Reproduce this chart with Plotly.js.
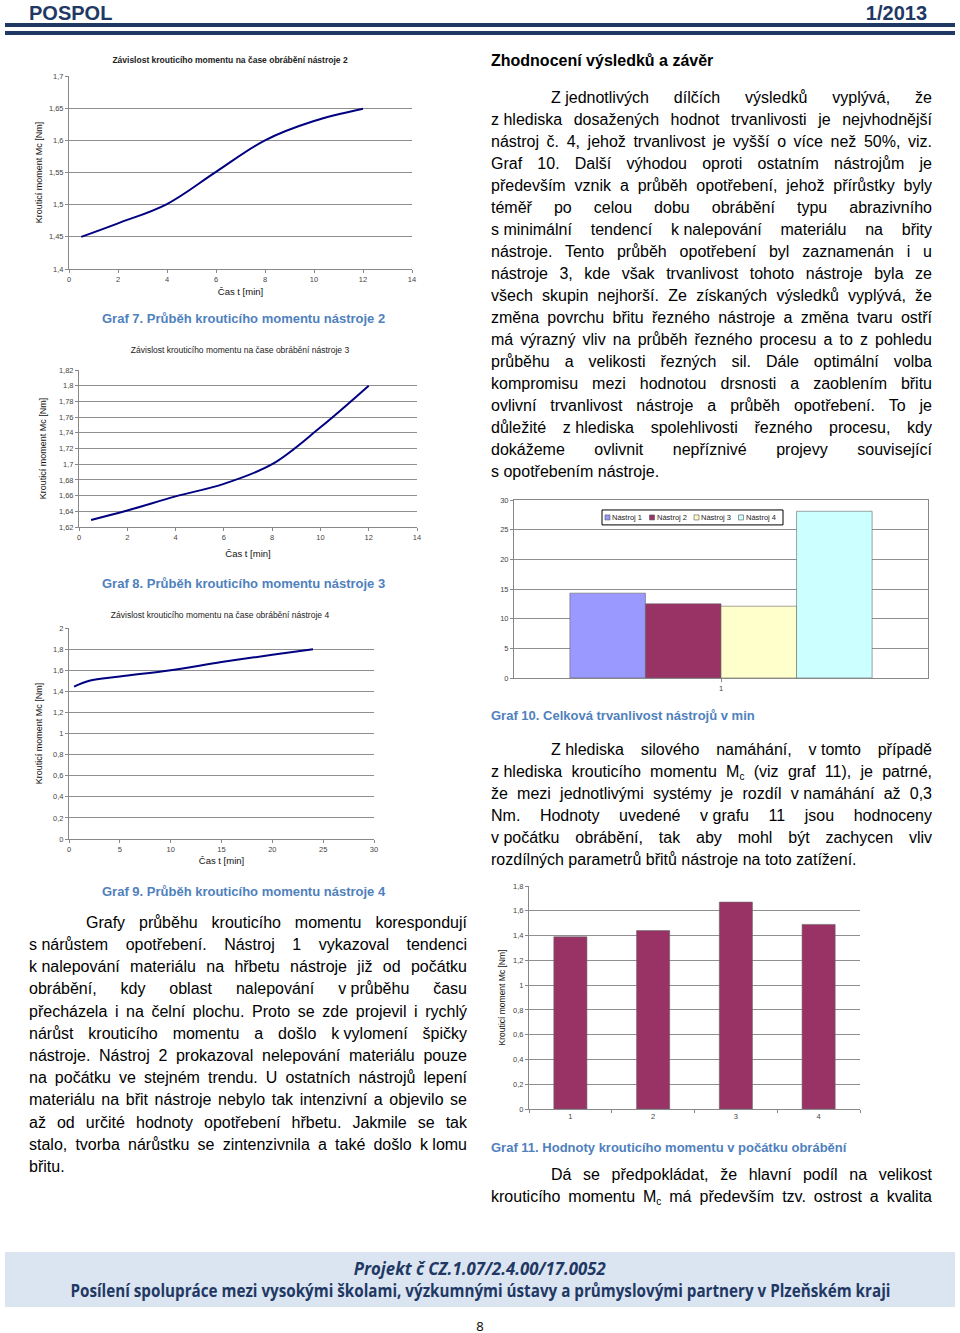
<!DOCTYPE html>
<html><head><meta charset="utf-8">
<script src="https://cdn.plot.ly/plotly-3.0.1.min.js"></script>
<style>
body{margin:0;width:960px;height:1333px;position:relative;background:#fff;font-family:"Liberation Sans",Arial,sans-serif;overflow:hidden}
.ln{position:absolute;font-size:16px;line-height:22px;height:22px;white-space:nowrap;text-align:justify;text-align-last:justify;color:#000}
.ln.last{text-align:left;text-align-last:left}
.ln sub{font-size:10px;line-height:0;vertical-align:-3px}
.nb{display:inline-block;white-space:pre}
.cap{position:absolute;font-size:13px;line-height:16px;font-weight:bold;color:#4f81bd;white-space:nowrap}
.chart{position:absolute}
.hdr{position:absolute;font-size:20px;line-height:20px;font-weight:bold;color:#1f3864}
.bar{position:absolute;left:5px;width:950px;background:#1f3864}
.foot{position:absolute;left:5px;width:950px;top:1252px;height:55px;background:#dbe5f1}
.fl{position:absolute;left:0;width:960px;text-align:center;color:#1f3864;font-family:"Open Sans","Noto Sans",sans-serif;font-weight:bold;white-space:nowrap}
.fl span{display:inline-block;transform-origin:center}
</style></head>
<body>
<div class="hdr" style="left:29px;top:3px">POSPOL</div>
<div class="hdr" style="right:33px;top:3px">1/2013</div>
<div class="bar" style="top:23px;height:4px"></div>
<div class="bar" style="top:31px;height:4px"></div>

<div id="g7" class="chart" style="left:30px;top:50px;width:395px;height:258px"></div>
<div id="g8" class="chart" style="left:30px;top:340px;width:400px;height:228px"></div>
<div id="g9" class="chart" style="left:30px;top:600px;width:360px;height:270px"></div>
<div id="g10" class="chart" style="left:490px;top:495px;width:450px;height:205px"></div>
<div id="g11" class="chart" style="left:490px;top:880px;width:450px;height:250px"></div>

<div class="cap" style="left:102px;top:311px">Graf 7. Průběh krouticího momentu nástroje 2</div>
<div class="cap" style="left:102px;top:576px">Graf 8. Průběh krouticího momentu nástroje 3</div>
<div class="cap" style="left:102px;top:884px">Graf 9. Průběh krouticího momentu nástroje 4</div>
<div class="cap" style="left:491px;top:708px">Graf 10. Celková trvanlivost nástrojů v min</div>
<div class="cap" style="left:491px;top:1140px">Graf 11. Hodnoty krouticího momentu v počátku obrábění</div>

<div class="ln last" style="left:491px;top:50px;font-weight:bold">Zhodnocení výsledků a závěr</div>

<div class="foot"></div>
<div class="fl" style="top:1258px;font-size:17px;line-height:22px"><span id="f1" style="font-style:italic">Projekt č CZ.1.07/2.4.00/17.0052</span></div>
<div class="fl" style="top:1280px;font-size:17px;line-height:22px"><span id="f2">Posílení spolupráce mezi vysokými školami, výzkumnými ústavy a průmyslovými partnery v Plzeňském kraji</span></div>
<div class="fl" style="top:1317px;font-size:13px;line-height:18px;color:#000;font-weight:normal">8</div>

<script>
// ---------- chart data ----------
const g7Time = [0.5, 2, 4, 6, 8, 10, 12];
const g7Moment = [1.45, 1.471, 1.501, 1.551, 1.600, 1.630, 1.649];

const g8Time = [0.5, 2, 4, 6, 8, 10, 12];
const g8Moment = [1.629, 1.641, 1.659, 1.675, 1.700, 1.747, 1.800];

const g9Time = [0.5, 2, 5, 10, 15, 20, 24];
const g9Moment = [1.445, 1.50, 1.54, 1.60, 1.677, 1.746, 1.798];

const g10Category = ['1'];
const g10Names = ['Nástroj 1', 'Nástroj 2', 'Nástroj 3', 'Nástroj 4'];
const g10Life = [14.3, 12.5, 12.1, 28.1];
const g10Colors = ['#9999ff', '#993366', '#ffffcc', '#ccffff'];

const g11Tools = ['1', '2', '3', '4'];
const g11Moment = [1.39, 1.44, 1.67, 1.49];

// ---------- text ----------
const paraRight1 = [
 'Z\u00a0jednotlivých dílčích výsledků vyplývá, že',
 'z\u00a0hlediska dosažených hodnot trvanlivosti je nejvhodnější',
 'nástroj č. 4, jehož trvanlivost je vyšší o více než 50%, viz.',
 'Graf 10. Další výhodou oproti ostatním nástrojům je',
 'především vznik a průběh opotřebení, jehož přírůstky byly',
 'téměř po celou dobu obrábění typu abrazivního',
 's\u00a0minimální tendencí k\u00a0nalepování materiálu na břity',
 'nástroje. Tento průběh opotřebení byl zaznamenán i u',
 'nástroje 3, kde však trvanlivost tohoto nástroje byla ze',
 'všech skupin nejhorší. Ze získaných výsledků vyplývá, že',
 'změna povrchu břitu řezného nástroje a změna tvaru ostří',
 'má výrazný vliv na průběh řezného procesu a to z pohledu',
 'průběhu a velikosti řezných sil. Dále optimální volba',
 'kompromisu mezi hodnotou drsnosti a zaoblením břitu',
 'ovlivní trvanlivost nástroje a průběh opotřebení. To je',
 'důležité z\u00a0hlediska spolehlivosti řezného procesu, kdy',
 'dokážeme ovlivnit nepříznivé projevy související',
 's\u00a0opotřebením nástroje.'
];
const paraRight2 = [
 'Z\u00a0hlediska silového namáhání, v\u00a0tomto případě',
 'z\u00a0hlediska krouticího momentu M<sub>c</sub> (viz graf 11), je patrné,',
 'že mezi jednotlivými systémy je rozdíl v\u00a0namáhání až 0,3',
 'Nm. Hodnoty uvedené v\u00a0grafu 11 jsou hodnoceny',
 'v\u00a0počátku obrábění, tak aby mohl být zachycen vliv',
 'rozdílných parametrů břitů nástroje na toto zatížení.'
];
const paraRight3 = [
 'Dá se předpokládat, že hlavní podíl na velikost',
 'krouticího momentu M<sub>c</sub> má především tzv. ostrost a kvalita'
];
const paraLeft = [
 'Grafy průběhu krouticího momentu korespondují',
 's\u00a0nárůstem opotřebení. Nástroj 1 vykazoval tendenci',
 'k\u00a0nalepování materiálu na hřbetu nástroje již od počátku',
 'obrábění, kdy oblast nalepování v\u00a0průběhu času',
 'přecházela i na čelní plochu. Proto se zde projevil i rychlý',
 'nárůst krouticího momentu a došlo k\u00a0vylomení špičky',
 'nástroje. Nástroj 2 prokazoval nelepování materiálu pouze',
 'na počátku ve stejném trendu. U ostatních nástrojů lepení',
 'materiálu na břit nástroje nebylo tak intenzivní a objevilo se',
 'až od určité hodnoty opotřebení hřbetu. Jakmile se tak',
 'stalo, tvorba nárůstku se zintenzivnila a také došlo k\u00a0lomu',
 'břitu.'
];

function placePara(lines, left, right, indent, baseline0, step, lastJustified) {
  lines.forEach((t, i) => {
    const d = document.createElement('div');
    d.className = 'ln' + ((i === lines.length - 1 && !lastJustified) ? ' last' : '');
    const x = left + (i === 0 ? indent : 0);
    d.style.left = x + 'px';
    d.style.width = (right - x) + 'px';
    d.style.top = (baseline0 + i * step - 16.5) + 'px';
    d.innerHTML = t.replace(/(\S+)\u00a0(\S+)/g, '<span class="nb">$1 $2</span>');
    document.body.appendChild(d);
  });
}
placePara(paraRight1, 491, 932, 60, 103.3, 22.0, false);
placePara(paraRight2, 491, 932, 60, 755, 22.1, false);
placePara(paraRight3, 491, 932, 60, 1180.7, 22.0, true);
placePara(paraLeft, 29, 467, 57, 928.3, 22.2, false);

// footer fit
function fit(id, w) {
  const s = document.getElementById(id);
  const cw = s.getBoundingClientRect().width;
  s.style.transform = 'scaleX(' + (w / cw) + ')';
}
fit('f1', 252); fit('f2', 820);

// ---------- charts ----------
const FF = 'Liberation Sans, Arial, sans-serif';
const cfg = {staticPlot: true, displayModeBar: false};
const axBase = {
  showline: true, linecolor: '#888', linewidth: 1, ticks: 'outside', ticklen: 3,
  tickcolor: '#888', zeroline: false, tickfont: {size: 7.5, color: '#444', family: FF}
};

function lineChart(id, x, y, o) {
  Plotly.newPlot(id, [{
    x: x, y: y, type: 'scatter', mode: 'lines',
    line: {color: '#000080', width: 2, shape: 'spline', smoothing: 1}
  }], {
    width: o.w, height: o.h, margin: o.m, separators: ', ',
    paper_bgcolor: '#fff', plot_bgcolor: '#fff', showlegend: false,
    font: {family: FF, size: 8, color: '#333'},
    title: {text: o.title, font: {size: o.tsize, color: '#222', family: FF},
            x: o.tx, xanchor: 'center', y: o.ty, yanchor: 'middle', yref: 'container'},
    xaxis: Object.assign({}, axBase, {range: o.xr, dtick: o.xd, tick0: 0, showgrid: false,
      title: {text: 'Čas t [min]', font: {size: 9.5, color: '#111'}, standoff: o.xs}}),
    yaxis: Object.assign({}, axBase, {range: o.yr, dtick: o.yd, tick0: o.yr[0], showgrid: true,
      gridcolor: '#8f8f8f', gridwidth: 1,
      title: {text: 'Krouticí moment Mc [Nm]', font: {size: 9, color: '#111'}, standoff: o.ys}})
  }, cfg);
}

lineChart('g7', g7Time, g7Moment, {w: 395, h: 258, m: {l: 39, r: 13, t: 26, b: 39},
  title: '<b>Závislost krouticího momentu na čase obrábění nástroje 2</b>', tsize: 8.5,
  tx: 200 / 395, ty: 1 - 10 / 258, xr: [0, 14], xd: 2, yr: [1.4, 1.7], yd: 0.05, xs: 5, ys: 4});
lineChart('g8', g8Time, g8Moment, {w: 400, h: 228, m: {l: 49, r: 13, t: 30, b: 41},
  title: 'Závislost krouticího momentu na čase obrábění nástroje 3', tsize: 8.5,
  tx: 210 / 400, ty: 1 - 10 / 228, xr: [0, 14], xd: 2, yr: [1.62, 1.82], yd: 0.02, xs: 9, ys: 10});
lineChart('g9', g9Time, g9Moment, {w: 360, h: 270, m: {l: 39, r: 16, t: 28, b: 31},
  title: 'Závislost krouticího momentu na čase obrábění nástroje 4', tsize: 8.5,
  tx: 190 / 360, ty: 1 - 15 / 270, xr: [0, 30], xd: 5, yr: [0, 2], yd: 0.2, xs: 4, ys: 8});

// Graf 10 with compact legend (as in the original)
const pw10 = 414;
const lgX0 = (602 - 514) / pw10, lgX1 = (783 - 514) / pw10, lgY0 = 0.86, lgY1 = 0.944;
const lgStart = (605 - 514) / pw10, lgStep = 44.5 / pw10, lgSq = 5 / pw10, lgGap = 7 / pw10;
const g10Shapes = [{type: 'rect', xref: 'paper', yref: 'paper', x0: lgX0, x1: lgX1, y0: lgY0, y1: lgY1,
  line: {color: '#000', width: 1}, fillcolor: '#fff', layer: 'above'}];
const g10Ann = [];
g10Names.forEach((n, i) => {
  const sx = lgStart + i * lgStep;
  g10Shapes.push({type: 'rect', xref: 'paper', yref: 'paper', x0: sx, x1: sx + lgSq,
    y0: 0.888, y1: 0.916, fillcolor: g10Colors[i], line: {color: '#555', width: 0.6}, layer: 'above'});
  g10Ann.push({xref: 'paper', yref: 'paper', x: sx + lgGap, y: 0.902, xanchor: 'left', yanchor: 'middle',
    text: n, showarrow: false, font: {size: 7.5, color: '#222', family: FF}, xshift: -2});
});

Plotly.newPlot('g10', g10Names.map((n, i) => ({
  x: g10Category, y: [g10Life[i]], name: n, type: 'bar',
  marker: {color: g10Colors[i], line: {color: '#666', width: 0.6}}
})), {
  width: 450, height: 205, margin: {l: 24, r: 12, t: 5, b: 22}, separators: ', ',
  paper_bgcolor: '#fff', plot_bgcolor: '#fff', barmode: 'group', bargap: 0.27, bargroupgap: 0,
  font: {family: FF, size: 8, color: '#333'},
  showlegend: false, shapes: g10Shapes, annotations: g10Ann,
  xaxis: Object.assign({}, axBase, {type: 'category', mirror: true, showgrid: false}),
  yaxis: Object.assign({}, axBase, {range: [0, 30], dtick: 5, mirror: true, showgrid: true,
    gridcolor: '#8f8f8f'})
}, cfg);

// Graf 11
Plotly.newPlot('g11', [{
  x: g11Tools, y: g11Moment, type: 'bar',
  marker: {color: '#993366', line: {color: '#666', width: 0.6}}
}], {
  width: 450, height: 250, margin: {l: 39, r: 80, t: 6, b: 21}, separators: ', ',
  paper_bgcolor: '#fff', plot_bgcolor: '#fff', bargap: 0.6, showlegend: false,
  font: {family: FF, size: 8, color: '#333'},
  xaxis: Object.assign({}, axBase, {type: 'category', tickson: 'boundaries', showgrid: false}),
  yaxis: Object.assign({}, axBase, {range: [0, 1.8], dtick: 0.2, showgrid: true, gridcolor: '#8f8f8f',
    title: {text: 'Krouticí moment Mc [Nm]', font: {size: 8.5, color: '#111'}, standoff: 6}})
}, cfg);
</script>
</body></html>
